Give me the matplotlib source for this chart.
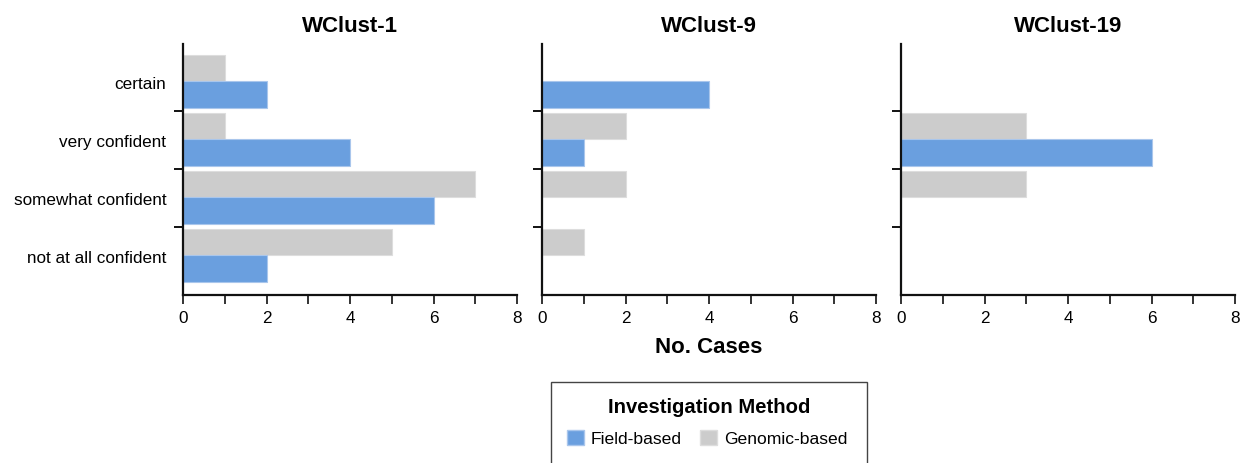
import numpy as np
import matplotlib
matplotlib.use("Agg")
import matplotlib.pyplot as plt
from matplotlib.patches import Patch, Rectangle

plt.rcParams["font.family"] = ["Liberation Sans", "DejaVu Sans"]

CATEGORIES = ["not at all confident", "somewhat confident", "very confident", "certain"]
PANELS = ["WClust-1", "WClust-9", "WClust-19"]

# values listed in CATEGORIES order (bottom to top)
FIELD = {
    "WClust-1": [2, 6, 4, 2],
    "WClust-9": [0, 0, 1, 4],
    "WClust-19": [0, 0, 6, 0],
}
GENOMIC = {
    "WClust-1": [5, 7, 1, 1],
    "WClust-9": [1, 2, 2, 0],
    "WClust-19": [0, 3, 3, 0],
}

BLUE = "#6a9fdf"
GREY = "#cccccc"
W, H = 1252, 464


def make_axes(fig, left_px):
    return fig.add_axes([left_px / W, 1 - 296 / H, 334 / W, 251 / H])


def draw_panel(ax, name, show_labels):
    y = np.arange(len(CATEGORIES))
    ax.barh(y + 0.235, GENOMIC[name], height=0.45, color=GREY, edgecolor="#dddddd", linewidth=0.8)
    ax.barh(y - 0.215, FIELD[name], height=0.45, color=BLUE, edgecolor="#a9c6ec", linewidth=0.8)
    ax.set_xlim(0, 8)
    ax.set_ylim(-0.672, 3.655)
    for s in ["top", "right"]:
        ax.spines[s].set_visible(False)
    for s in ["left", "bottom"]:
        ax.spines[s].set_linewidth(1.6)
        ax.spines[s].set_color("#111111")

    ax.set_xticks(np.arange(0, 9, 1))
    ax.set_xticklabels([str(v) if v % 2 == 0 else "" for v in range(9)], fontsize=12.3)
    ax.tick_params(axis="x", direction="out", length=6.5, width=1.4, color="#333333", pad=4.5)

    ax.set_yticks(y)
    ax.set_yticklabels(CATEGORIES if show_labels else [], fontsize=12.3)
    ax.tick_params(axis="y", which="major", length=0, pad=12)
    ax.set_yticks([0.5, 1.5, 2.5], minor=True)
    ax.tick_params(axis="y", which="minor", direction="out", length=6.5, width=1.4, color="#111111")

    ax.set_title(name, fontsize=16, fontweight="bold", pad=9)


def main():
    fig = plt.figure(figsize=(W / 100, H / 100), dpi=100)
    lefts = [183, 542, 901]
    for i, name in enumerate(PANELS):
        ax = make_axes(fig, lefts[i])
        draw_panel(ax, name, i == 0)

    fig.text(709 / W, 1 - 348 / H, "No. Cases", ha="center", va="center",
             fontsize=16, fontweight="bold")

    fig.patches.append(Rectangle((551 / W, -0.05), 316 / W, (H - 383) / H + 0.05,
                                 transform=fig.transFigure, fill=False,
                                 edgecolor="#444444", linewidth=1.0))
    fig.text(709 / W, 1 - 408 / H, "Investigation Method", ha="center", va="center",
             fontsize=14.6, fontweight="bold")
    handles = [Patch(facecolor=BLUE, edgecolor="#a9c6ec"), Patch(facecolor=GREY, edgecolor="#dddddd")]
    fig.legend(handles, ["Field-based", "Genomic-based"], loc="center",
               bbox_to_anchor=(707 / W, 1 - 439 / H), ncol=2, frameon=False,
               fontsize=12.6, handlelength=1.0, handleheight=1.0, handletextpad=0.4,
               columnspacing=1.0)

    fig.savefig("out.png", dpi=100)


if __name__ == "__main__":
    main()
